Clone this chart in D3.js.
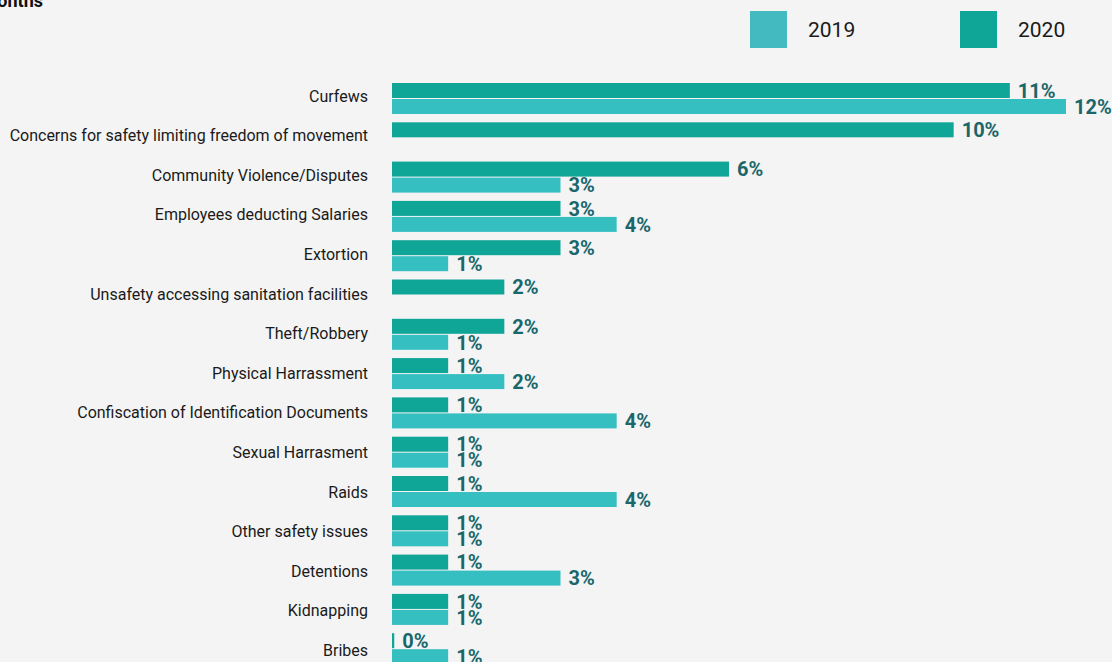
<!DOCTYPE html>
<html>
<head>
<meta charset="utf-8">
<script src="https://cdn.jsdelivr.net/npm/d3@7"></script>
<style>
  html, body { margin: 0; padding: 0; background: #f4f4f4; }
  svg { display: block; font-family: Roboto, "Noto Sans", sans-serif; }
</style>
</head>
<body>
<div id="chart"></div>
<script>
// 카테고리 (위에서 아래로)
var categories = [
    "Curfews",
    "Concerns for safety limiting freedom of movement",
    "Community Violence/Disputes",
    "Employees deducting Salaries",
    "Extortion",
    "Unsafety accessing sanitation facilities",
    "Theft/Robbery",
    "Physical Harrassment",
    "Confiscation of Identification Documents",
    "Sexual Harrasment",
    "Raids",
    "Other safety issues",
    "Detentions",
    "Kidnapping",
    "Bribes"
];

// 시리즈 값 (%), null = 값 없음
var values2020 = [11, 10, 6, 3, 3, 2, 2, 1, 1, 1, 1, 1, 1, 1, 0.04];
var values2019 = [12, null, 3, 4, 1, null, 1, 2, 4, 1, 4, 1, 3, 1, 1];

var seriesNames = ["2019", "2020"];
var titleText = "months";

var width = 1112, height = 662;
var color2020 = "#0fa597", color2019 = "#35bfc1";
var legend2019 = "#42babf";
var labelColor = "#1a676b";

var svg = d3.select("#chart")
    .append("svg")
    .attr("width", width)
    .attr("height", height)
    .style("background-color", "#f4f4f4");

var x = d3.scaleLinear().domain([0, 12]).range([392, 1066]);

var rowPitch = 39.3, top0 = 83, barH = 15;
var y = d3.scaleBand()
    .domain(categories)
    .range([top0, top0 + rowPitch * categories.length]);

// 제목 (잘린 부분)
svg.append("text")
    .attr("x", 43)
    .attr("y", 7)
    .attr("text-anchor", "end")
    .style("font-size", "18px")
    .style("font-weight", "bold")
    .style("fill", "#111")
    .text(titleText);

// 범례
var legendData = [
    { name: seriesNames[0], color: legend2019, x: 750 },
    { name: seriesNames[1], color: color2020, x: 960 }
];
var lg = svg.append("g");
lg.selectAll("rect").data(legendData).enter()
    .append("rect")
    .attr("x", function (d) { return d.x; })
    .attr("y", 11)
    .attr("width", 37)
    .attr("height", 37)
    .attr("fill", function (d) { return d.color; });
lg.selectAll("text").data(legendData).enter()
    .append("text")
    .attr("x", function (d) { return d.x + 58; })
    .attr("y", 37)
    .style("font-size", "21px")
    .style("fill", "#1a1a1a")
    .text(function (d) { return d.name; });

// 카테고리 라벨
svg.append("g").selectAll("text")
    .data(categories).enter()
    .append("text")
    .attr("x", 368)
    .attr("y", function (d, i) { return y(d) + 13 + i * 0.3; })
    .attr("dy", "0.35em")
    .attr("text-anchor", "end")
    .style("font-size", "16px")
    .style("fill", "#1a1a1a")
    .text(function (d) { return d; });

// 막대 데이터
var bars = [];
categories.forEach(function (c, i) {
    if (values2020[i] != null) bars.push({ cat: c, v: values2020[i], off: 0, color: color2020 });
    if (values2019[i] != null) bars.push({ cat: c, v: values2019[i], off: barH + 1, color: color2019 });
});

var g = svg.append("g");
g.selectAll("rect").data(bars).enter()
    .append("rect")
    .attr("x", x(0))
    .attr("y", function (d) { return y(d.cat) + d.off; })
    .attr("width", function (d) { return x(d.v) - x(0); })
    .attr("height", barH)
    .attr("fill", function (d) { return d.color; });

g.selectAll("text").data(bars).enter()
    .append("text")
    .attr("x", function (d) { return x(d.v) + 8; })
    .attr("y", function (d) { return y(d.cat) + d.off + barH / 2; })
    .attr("dy", "0.36em")
    .style("font-size", "20px")
    .style("font-weight", "bold")
    .style("fill", labelColor)
    .text(function (d) { return Math.round(d.v) + "%"; });
</script>
</body>
</html>
